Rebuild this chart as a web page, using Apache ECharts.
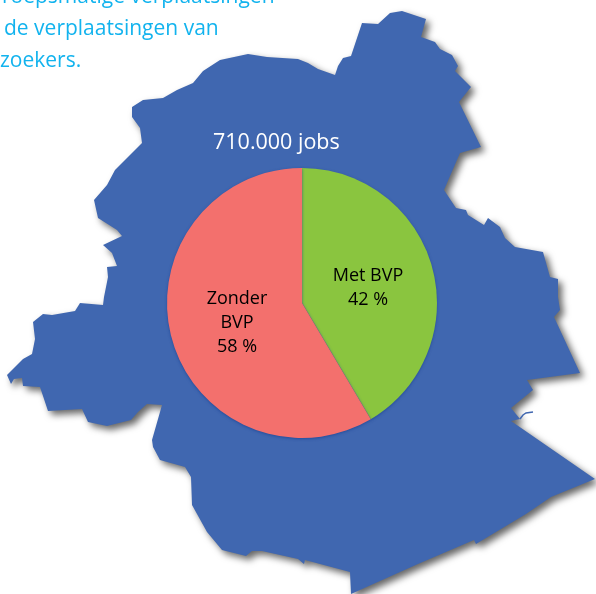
<!DOCTYPE html>
<html>
<head>
<meta charset="utf-8">
<style>
  html, body { margin: 0; padding: 0; background: #fff; }
  #container { width: 596px; height: 594px; }
</style>
<script src="https://cdn.jsdelivr.net/npm/echarts@6/dist/echarts.min.js"></script>
</head>
<body>
<div id="container"></div>
<script>
var categories = ["Met BVP", "Zonder BVP"];
var sliceValues = [41.5, 58.5];
var sliceLabels = ["Met BVP\n42 %", "Zonder\nBVP\n58 %"];
var sliceColors = ["#8AC53F", "#F3706D"];
var chartTitle = "710.000 jobs";
var introLines = ["roepsmatige verplaatsingen", "de verplaatsingen van", "zoekers."];

// outline of the region behind the pie
var regionOutline = [
  [132,107],[143,100],[163,98],[177,90],[193,83],[203,71],[220,60],[248,54],[267,57],[298,59],
  [308,63],[318,69],[335,75],[338,66],[343,58],[351,56],[362,23],[378,24],[390,13],[402,11],
  [426,19],[421,37],[435,42],[440,49],[452,55],[458,66],[455,71],[471,87],[459,102],[481,147],
  [460,153],[444,190],[456,208],[466,210],[468,215],[484,225],[488,218],[500,227],[505,238],
  [515,247],[543,252],[550,277],[558,279],[558,297],[560,310],[554,317],[580,373],[527,380],
  [533,390],[511,408],[520,419],[511,421],[595,479],[551,497],[526,514],[476,544],[474,540],
  [418,564],[351,594],[350,572],[305,560],[304,564],[298,559],[262,551],[252,551],[246,556],
  [222,550],[207,532],[197,514],[192,505],[191,477],[185,467],[160,460],[153,447],[152,440],
  [162,405],[147,404],[138,412],[131,420],[107,426],[88,422],[82,409],[48,411],[40,387],
  [23,386],[22,378],[14,379],[11,384],[7,375],[23,359],[32,354],[35,339],[33,322],[43,314],
  [52,315],[75,311],[80,303],[103,305],[104,297],[108,277],[107,267],[117,266],[112,253],
  [103,245],[122,236],[117,230],[98,218],[94,200],[107,185],[115,170],[142,143],[140,128],
  [132,117]
];
var riverLine = [[520,419],[523,415],[526,413],[533,412]];

var dom = document.getElementById('container');
var myChart = echarts.init(dom, null, { renderer: 'canvas' });

var introX = [2, 4, 0];
var introY = [-13, 19, 51];
var labelOffsets = [[-2, 3], [3, 1.5]];

var option = {
  backgroundColor: "#fff",
  animation: false,
  graphic: [
    {
      type: "polygon",
      z: -2,
      shape: { points: regionOutline },
      style: {
        fill: "#4067B0",
        shadowBlur: 7,
        shadowOffsetX: 4,
        shadowOffsetY: 4,
        shadowColor: "rgba(0,0,0,0.6)",
      },
    },
    {
      type: "polyline",
      z: -1,
      shape: { points: riverLine },
      style: { stroke: "#4067B0", lineWidth: 1.5, fill: null },
    },
  ].concat(introLines.map(function (line, i) {
    return {
      type: "text",
      z: 1,
      x: introX[i],
      y: introY[i],
      style: {
        text: line,
        fill: "#12B3EE",
        font: '21px "Open Sans"',
      },
    };
  })),
  title: {
    text: chartTitle,
    left: 208,
    top: 127,
    textStyle: {
      fontFamily: "Open Sans",
      fontSize: 21.5,
      fontWeight: "normal",
      color: "#fff",
    },
  },
  series: [
    {
      name: "Jobs",
      type: "pie",
      center: [302, 303],
      radius: [0, 135],
      startAngle: 90,
      clockwise: true,
      itemStyle: {
        shadowBlur: 3,
        shadowOffsetY: 1,
        shadowColor: "rgba(30,70,150,0.8)",
      },
      label: {
        show: true,
        position: "inside",
        fontFamily: "Open Sans",
        fontSize: 18,
        lineHeight: 24,
        color: "#000",
        formatter: function (p) { return sliceLabels[p.dataIndex]; },
      },
      labelLine: { show: false },
      emphasis: { disabled: true },
      data: categories.map(function (name, i) {
        return {
          name: name,
          value: sliceValues[i],
          itemStyle: { color: sliceColors[i] },
          label: { offset: labelOffsets[i] },
        };
      }),
    },
  ],
};

myChart.setOption(option);
window.addEventListener('resize', myChart.resize);
</script>
</body>
</html>
